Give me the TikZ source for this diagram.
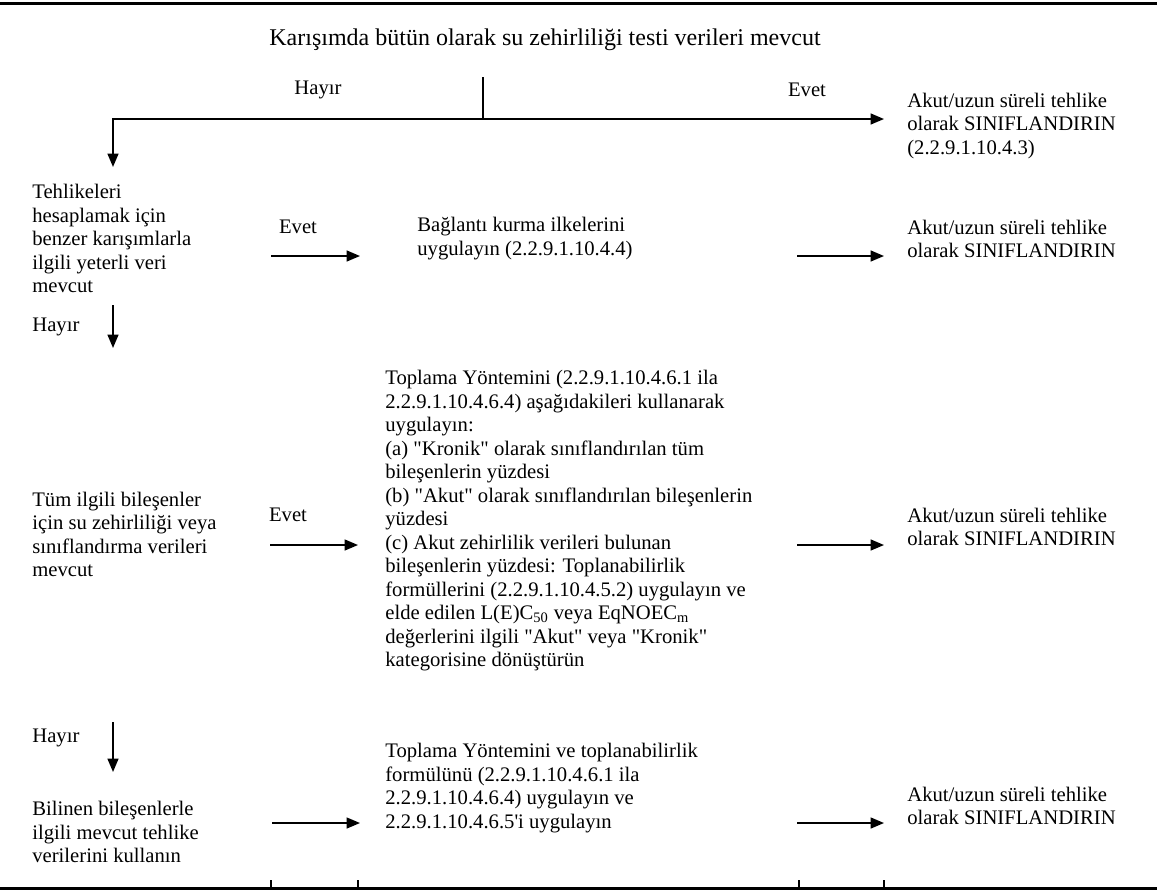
\documentclass[tikz,border=0pt]{standalone}
\usepackage{fontspec}
\setmainfont{Liberation Serif}[Ligatures=TeXOff]
\usetikzlibrary{arrows.meta, positioning}
\tikzstyle{txt} = [align=left, inner sep=0pt, anchor=west, font=\fontsize{12.4}{14.1}\selectfont]
\tikzstyle{lbl} = [inner sep=0pt, font=\fontsize{12.4}{14.1}\selectfont]
\tikzstyle{line} = [line width=1pt]
\tikzstyle{arrow} = [line width=1pt, -{Triangle[length=8pt, width=6.5pt]}]
\tikzstyle{rule} = [line width=1.8pt]

\begin{document}
\begin{tikzpicture}[x=0.6pt, y=-0.6pt]
\useasboundingbox (0,0) rectangle (1157,891);
\draw[rule] (0,3) -- (1157,3);
\draw[rule] (0,888) -- (1157,888);
\foreach \x in {271,358,799,884} \draw[line width=0.7pt] (\x,880) -- (\x,888);

\node (title) [lbl, font=\fontsize{14.4}{16}\selectfont] at (545,40) {Karışımda bütün olarak su zehirliliği testi verileri mevcut};

% top branch
\node (hayir0) [lbl] at (318,90) {Hayır};
\node (evet0) [lbl] at (807,90) {Evet};
\node (res0) [txt] at (907,126) {Akut/uzun süreli tehlike\\olarak SINIFLANDIRIN\\(2.2.9.1.10.4.3)};
\coordinate (split) at (483,77);
\coordinate (join) at (483,119);
\coordinate (corner) at (113,119);
\coordinate (down0) at (113,167);
\coordinate (tip0) at (884,119);
\draw [line] (split) -- (join);
\draw [arrow] (join) -- (corner) -- (down0);
\draw [arrow] (join) -- (tip0);

% row 1
\node (q1) [txt] at (32,238.5) {Tehlikeleri\\hesaplamak için\\benzer karışımlarla\\ilgili yeterli veri\\mevcut};
\node (evet1) [lbl] at (298,227) {Evet};
\node (act1) [txt] at (417,238.5) {Bağlantı kurma ilkelerini\\uygulayın (2.2.9.1.10.4.4)};
\node (res1) [txt] at (907,239) {Akut/uzun süreli tehlike\\olarak SINIFLANDIRIN};
\node (hayir1) [lbl, anchor=west] at (32,327) {Hayır};
\coordinate (e1a) at (271,256);
\coordinate (e1b) at (360,256);
\coordinate (r1a) at (797,256);
\coordinate (r1b) at (884,256);
\coordinate (h1a) at (113,305);
\coordinate (h1b) at (113,348);
\draw [arrow] (e1a) -- (e1b);
\draw [arrow] (r1a) -- (r1b);
\draw [arrow] (h1a) -- (h1b);

% row 2
\node (q2) [txt] at (32,534.5) {Tüm ilgili bileşenler\\için su zehirliliği veya\\sınıflandırma verileri\\mevcut};
\node (evet2) [lbl] at (288,515) {Evet};
\node (act2) [txt] at (385,521) {Toplama Yöntemini (2.2.9.1.10.4.6.1 ila\\2.2.9.1.10.4.6.4) aşağıdakileri kullanarak\\uygulayın:\\(a) "Kronik" olarak sınıflandırılan tüm\\bileşenlerin yüzdesi\\(b) "Akut" olarak sınıflandırılan bileşenlerin\\yüzdesi\\(c) Akut zehirlilik verileri bulunan\\bileşenlerin yüzdesi: Toplanabilirlik\\formüllerini (2.2.9.1.10.4.5.2) uygulayın ve\\elde edilen L(E)C\textsubscript{50} veya EqNOEC\textsubscript{m}\\değerlerini ilgili "Akut" veya "Kronik"\\kategorisine dönüştürün};
\node (res2) [txt] at (907,527) {Akut/uzun süreli tehlike\\olarak SINIFLANDIRIN};
\node (hayir2) [lbl, anchor=west] at (32,738) {Hayır};
\coordinate (e2a) at (270,545);
\coordinate (e2b) at (358,545);
\coordinate (r2a) at (797,545);
\coordinate (r2b) at (884,545);
\coordinate (h2a) at (113,722);
\coordinate (h2b) at (113,772);
\draw [arrow] (e2a) -- (e2b);
\draw [arrow] (r2a) -- (r2b);
\draw [arrow] (h2a) -- (h2b);

% row 3
\node (q3) [txt] at (32,832) {Bilinen bileşenlerle\\ilgili mevcut tehlike\\verilerini kullanın};
\node (act3) [txt] at (385,788) {Toplama Yöntemini ve toplanabilirlik\\formülünü (2.2.9.1.10.4.6.1 ila\\2.2.9.1.10.4.6.4) uygulayın ve\\2.2.9.1.10.4.6.5'i uygulayın};
\node (res3) [txt] at (907,806) {Akut/uzun süreli tehlike\\olarak SINIFLANDIRIN};
\coordinate (e3a) at (272,823);
\coordinate (e3b) at (360,823);
\coordinate (r3a) at (797,823);
\coordinate (r3b) at (884,823);
\draw [arrow] (e3a) -- (e3b);
\draw [arrow] (r3a) -- (r3b);
\end{tikzpicture}
\end{document}
